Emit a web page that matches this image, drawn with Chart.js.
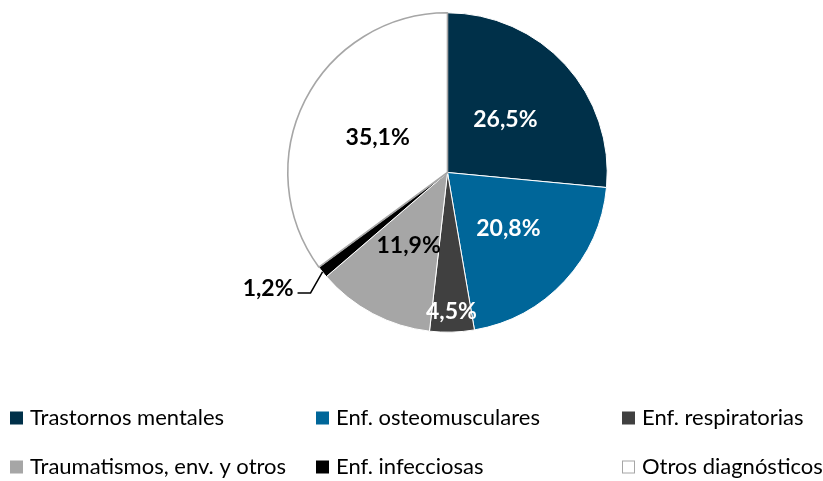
<!DOCTYPE html>
<html>
<head>
<meta charset="utf-8">
<script src="https://cdn.jsdelivr.net/npm/chart.js@4"></script>
<style>
html,body{margin:0;padding:0;background:#fff;}
#wrap{position:relative;width:823px;height:481px;}
</style>
</head>
<body>
<div id="wrap"><canvas id="c" width="823" height="481"></canvas></div>
<script>
const categories = ["Trastornos mentales","Enf. osteomusculares","Enf. respiratorias","Traumatismos, env. y otros","Enf. infecciosas","Otros diagnósticos"];
const values = [26.5, 20.8, 4.5, 11.9, 1.2, 35.1];
const valueLabels = ["26,5%","20,8%","4,5%","11,9%","1,2%","35,1%"];

const colors = ["#003049","#006699","#404040","#a6a6a6","#000000","#ffffff"];
const borderColors = ["#ffffff","#ffffff","#ffffff","#ffffff","#ffffff","#a6a6a6"];
const borderWidths = [1,1,1,1,1,1.6];
const labelColors = ["#ffffff","#ffffff","#ffffff","#000000","#000000","#000000"];
const labelRadiusFrac = [0.49, 0.52, 0.87, 0.52, null, 0.49];
const legendPos = [[10,418],[316,418],[622,418],[10,467],[316,467],[622,467]];

const labelPlugin = {
  id:'labels',
  afterDatasetsDraw(chart){
    const ctx = chart.ctx;
    const meta = chart.getDatasetMeta(0);
    ctx.save();
    ctx.font = "bold 23px Lato";
    ctx.textBaseline = "middle";
    meta.data.forEach((arc,i)=>{
      const p = arc.getProps(['x','y','startAngle','endAngle','outerRadius'],true);
      const mid = (p.startAngle+p.endAngle)/2;
      if (labelRadiusFrac[i] === null) {
        const ex = p.x + Math.cos(mid)*p.outerRadius;
        const ey = p.y + Math.sin(mid)*p.outerRadius;
        ctx.strokeStyle = "#000"; ctx.lineWidth = 1.5;
        ctx.beginPath();
        ctx.moveTo(ex,ey);
        ctx.lineTo(ex-12, ey+21);
        ctx.lineTo(ex-25, ey+21);
        ctx.stroke();
        ctx.fillStyle = labelColors[i];
        ctx.textAlign = "right";
        ctx.fillText(valueLabels[i], ex-29, ey+17);
      } else {
        const r = p.outerRadius*labelRadiusFrac[i];
        ctx.fillStyle = labelColors[i];
        ctx.textAlign = "center";
        ctx.fillText(valueLabels[i], p.x+Math.cos(mid)*r, p.y+Math.sin(mid)*r);
      }
    });
    ctx.font = "22px Lato";
    ctx.textAlign = "left";
    categories.forEach((c,i)=>{
      const [x,y] = legendPos[i];
      ctx.fillStyle = colors[i];
      ctx.fillRect(x, y-6.5, 13, 13);
      if (i===5){ ctx.strokeStyle="#a6a6a6"; ctx.lineWidth=1; ctx.strokeRect(x+0.5,y-6,12,12); }
      ctx.fillStyle = "#000";
      ctx.fillText(c, x+20, y);
    });
    ctx.restore();
  }
};

new Chart(document.getElementById('c'), {
  type:'pie',
  data:{labels:categories, datasets:[{data:values, backgroundColor:colors, borderColor:borderColors, borderWidth:borderWidths}]},
  options:{
    responsive:false, animation:false,
    layout:{padding:{left:287,right:215,top:12,bottom:148}},
    plugins:{legend:{display:false}, tooltip:{enabled:false}}
  },
  plugins:[labelPlugin]
});
</script>
</body>
</html>
